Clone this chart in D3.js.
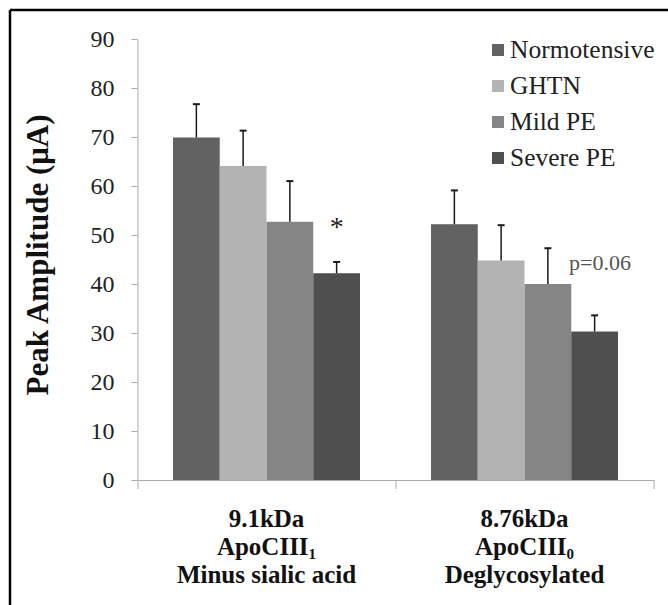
<!DOCTYPE html>
<html>
<head>
<meta charset="utf-8">
<script src="https://cdn.jsdelivr.net/npm/d3@7"></script>
<style>
  body { margin: 0; background: #fff; }
  text { font-family: "Liberation Serif", "Times New Roman", "DejaVu Serif", serif; }
</style>
</head>
<body>
<div id="chart"></div>
<script>
// categories, series, values
const categories = ["9.1kDa", "8.76kDa"];
const series = ["Normotensive", "GHTN", "Mild PE", "Severe PE"];
const meanValues = [
  [69.9, 64.1, 52.7, 42.2],
  [52.2, 44.8, 40.0, 30.3]
];
const errorTops = [
  [76.7, 71.3, 61.0, 44.5],
  [59.1, 52.0, 47.3, 33.6]
];
const yTicks = [0, 10, 20, 30, 40, 50, 60, 70, 80, 90];
const colors = ["#626262", "#b3b3b3", "#858585", "#4f4f4f"];
const serifFont = "'Liberation Serif', 'Times New Roman', 'DejaVu Serif', serif";

const W = 668, H = 605;
const svg = d3.select("#chart").append("svg").attr("width", W).attr("height", H)
  .style("display", "block");
svg.append("rect").attr("width", W).attr("height", H).attr("fill", "#fff");

// frame (only top and left edges visible)
svg.append("line").attr("x1", 10).attr("y1", 10).attr("x2", W).attr("y2", 10)
   .attr("stroke", "#000").attr("stroke-width", 2.5);
svg.append("line").attr("x1", 10).attr("y1", 10).attr("x2", 10).attr("y2", H)
   .attr("stroke", "#000").attr("stroke-width", 2.5);

const plotL = 137.5, plotR = 653.5, plotT = 39, plotB = 480;

const y = d3.scaleLinear().domain([0, 90]).range([plotB, plotT]);
const x0 = d3.scaleBand().domain(categories).range([plotL, plotR]);
const groupPad = 35.5;
const x1 = d3.scaleBand().domain(series).range([groupPad, x0.bandwidth() - groupPad]);

// y axis
const yAxis = svg.append("g").attr("transform", `translate(${plotL},0)`)
  .call(d3.axisLeft(y).tickValues(yTicks).tickSize(6).tickSizeOuter(0).tickPadding(17));
yAxis.attr("font-family", null).attr("font-size", null);
yAxis.select(".domain").attr("stroke", "#aaa");
yAxis.selectAll(".tick line").attr("stroke", "#aaa");
yAxis.selectAll(".tick text").attr("font-size", 24).attr("fill", "#222")
  .style("font-family", serifFont);

// bars
const groups = svg.selectAll(".grp").data(categories).enter().append("g")
  .attr("transform", d => `translate(${x0(d)},0)`);

groups.each(function(c, ci) {
  const g = d3.select(this);
  series.forEach((s, si) => {
    g.append("rect")
      .attr("x", x1(s)).attr("width", x1.bandwidth())
      .attr("y", y(meanValues[ci][si])).attr("height", y(0) - y(meanValues[ci][si]))
      .attr("fill", colors[si]);
    const cx = x1(s) + x1.bandwidth() / 2;
    g.append("line").attr("x1", cx).attr("x2", cx)
      .attr("y1", y(meanValues[ci][si])).attr("y2", y(errorTops[ci][si]))
      .attr("stroke", "#1a1a1a").attr("stroke-width", 1.5);
    g.append("line").attr("x1", cx - 3.5).attr("x2", cx + 3.5)
      .attr("y1", y(errorTops[ci][si])).attr("y2", y(errorTops[ci][si]))
      .attr("stroke", "#1a1a1a").attr("stroke-width", 2);
  });
});

// x axis with ticks at category boundaries
const xEdges = d3.scaleLinear().domain([0, categories.length]).range([plotL, plotR]);
const xAxis = svg.append("g").attr("transform", `translate(0,${plotB})`)
  .call(d3.axisBottom(xEdges).tickValues(d3.range(categories.length + 1))
    .tickSize(9).tickSizeOuter(0).tickFormat(""));
xAxis.select(".domain").attr("stroke", "#aaa");
xAxis.selectAll(".tick line").attr("stroke", "#aaa");

// category labels
const catLines = [
  ["9.1kDa", ["ApoCIII", "1"], "Minus sialic acid"],
  ["8.76kDa", ["ApoCIII", "0"], "Deglycosylated"]
];
categories.forEach((c, ci) => {
  const cx = x0(c) + x0.bandwidth() / 2;
  const t = svg.append("text").attr("text-anchor", "middle").attr("font-weight", "bold")
    .attr("font-size", 25).attr("fill", "#111").style("font-family", serifFont);
  const lines = catLines[ci];
  t.append("tspan").attr("x", cx).attr("y", 527).text(lines[0]);
  const l2 = t.append("tspan").attr("x", cx).attr("y", 555);
  l2.append("tspan").text(lines[1][0]);
  l2.append("tspan").attr("font-size", 15).attr("dy", 4).text(lines[1][1]);
  t.append("tspan").attr("x", cx).attr("y", 583).text(lines[2]);
});

// y axis title
svg.append("text")
  .attr("transform", "translate(48,255) rotate(-90)")
  .attr("text-anchor", "middle").attr("font-weight", "bold").attr("font-size", 31)
  .attr("fill", "#111").style("font-family", serifFont)
  .text("Peak Amplitude (\u03bcA)");

// annotations
const sevX = x1("Severe PE") + x1.bandwidth() / 2;
svg.append("text").attr("x", x0(categories[0]) + sevX).attr("y", 236)
  .attr("text-anchor", "middle").attr("font-size", 28).attr("fill", "#222")
  .style("font-family", serifFont).text("*");
svg.append("text").attr("x", 569).attr("y", 270)
  .attr("font-size", 22).attr("fill", "#555").style("font-family", serifFont).text("p=0.06");

// legend
const legend = svg.append("g").attr("transform", "translate(492,0)");
const legendY = d3.scalePoint().domain(series).range([58, 166]);
series.forEach((s, si) => {
  legend.append("rect").attr("x", 0).attr("y", legendY(s) - 14)
    .attr("width", 12).attr("height", 12).attr("fill", colors[si]);
  legend.append("text").attr("x", 18).attr("y", legendY(s))
    .attr("font-size", 25.5).attr("fill", "#222").style("font-family", serifFont).text(s);
});
</script>
</body>
</html>
